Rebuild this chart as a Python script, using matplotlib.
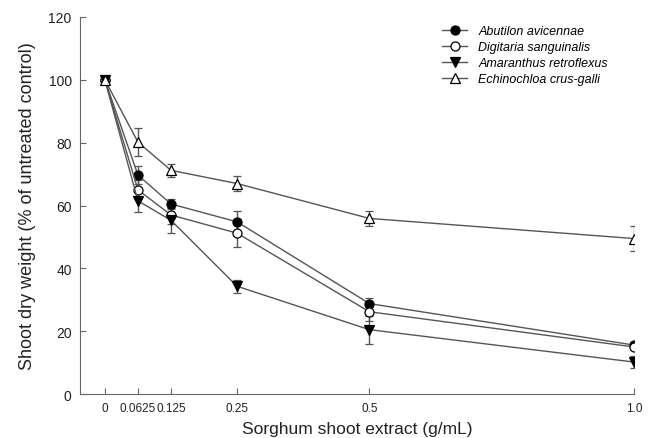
import matplotlib
matplotlib.use("Agg")
from matplotlib import pyplot as plt
from matplotlib.lines import Line2D

plt.rcParams['font.family'] = ['Liberation Sans', 'DejaVu Sans']

x = [0, 0.0625, 0.125, 0.25, 0.5, 1.0]
xlabels = ["0", "0.0625", "0.125", "0.25", "0.5", "1.0"]

abutilon = [100, 69.7, 60.5, 54.8, 28.8, 15.6]
abutilon_err = [0, 3.0, 1.5, 3.5, 1.8, 1.0]
digitaria = [100, 65.0, 57.0, 51.2, 26.2, 15.0]
digitaria_err = [0, 3.0, 3.0, 4.5, 3.0, 1.0]
amaranthus = [100, 61.5, 55.3, 34.3, 20.5, 10.2]
amaranthus_err = [0, 3.5, 4.0, 2.0, 4.5, 2.0]
echinochloa = [100, 80.2, 71.2, 67.0, 55.9, 49.5]
echinochloa_err = [0, 4.5, 2.0, 2.5, 2.5, 4.0]

fig = plt.figure(figsize=(6.49, 4.39), dpi=100)
ax = fig.add_axes([80 / 649, 0.100, 554 / 649, 0.859])

series = [
    (abutilon, abutilon_err, "o", "black", "Abutilon avicennae"),
    (digitaria, digitaria_err, "o", "white", "Digitaria sanguinalis"),
    (amaranthus, amaranthus_err, "v", "black", "Amaranthus retroflexus"),
    (echinochloa, echinochloa_err, "^", "white", "Echinochloa crus-galli"),
]
handles = []
for y, e, m, fc, lab in series:
    ax.errorbar(x, y, yerr=e, marker=m, markersize=6.5, markerfacecolor=fc,
                markeredgecolor="black", markeredgewidth=0.9, color="#555555",
                linewidth=1.0, ecolor="#555555", elinewidth=1.0, capsize=3,
                capthick=1.0)
    handles.append(Line2D([], [], marker=m, markersize=6.5, markerfacecolor=fc,
                          markeredgecolor="black", markeredgewidth=0.9,
                          color="#555555", linewidth=1.0, label=lab))

ax.set_xlim(-0.047, 1.0)
ax.set_ylim(0, 120)
ax.set_xticks(x)
ax.set_xticklabels(xlabels)
ax.set_yticks(range(0, 121, 20))
ax.spines['top'].set_visible(False)
ax.spines['right'].set_visible(False)
for s in ['left', 'bottom']:
    ax.spines[s].set_color("#666666")
ax.tick_params(direction="in", colors="#666666", labelcolor="#222222", length=4)
ax.tick_params(axis="x", labelsize=8.5, pad=6)
ax.tick_params(axis="y", labelsize=10, pad=6)

ax.set_xlabel("Sorghum shoot extract (g/mL)", fontsize=12.5, color="#222222", labelpad=5)
ax.set_ylabel("Shoot dry weight (% of untreated control)", fontsize=13, color="#222222",
              labelpad=9)

ax.legend(handles=handles, loc="upper left", bbox_to_anchor=(442 / 649, 1 - 26 / 439),
          bbox_transform=fig.transFigure, frameon=False,
          prop={'style': 'italic', 'size': 9}, handlelength=2.0, handletextpad=0.9,
          labelspacing=0.33, borderpad=0, borderaxespad=0)

fig.savefig("out.png", dpi=100)
